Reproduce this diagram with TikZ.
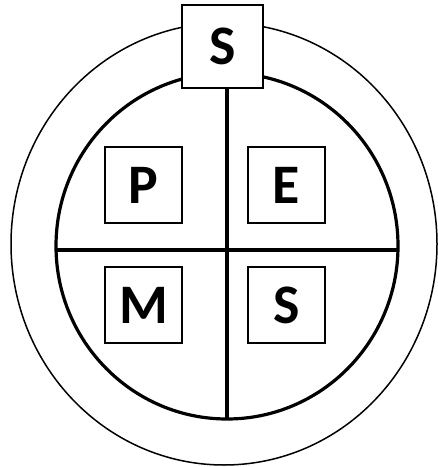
\documentclass[tikz,border=0pt]{standalone}
\usepackage{fontspec}
\setmainfont{Carlito}
\begin{document}
\begin{tikzpicture}[x=1bp,y=-1bp,
  lbox/.style={draw=black,line width=1.6bp,fill=white,inner sep=0pt,
    font=\fontsize{56}{60}\selectfont\bfseries}]
\useasboundingbox (0,0) rectangle (438,467);
% outer ring
\draw[line width=1.5bp] (224,244) ellipse [x radius=213, y radius=221];
% inner circle
\draw[line width=3.2bp] (227,246) ellipse [x radius=171, y radius=173];
% quadrant lines
\coordinate (L) at (56,250);
\coordinate (R) at (398,250);
\coordinate (B) at (227,419);
\coordinate (T) at (227,88);
\draw[line width=3.2bp] (L) -- (R);
\draw[line width=3.2bp] (T) -- (B);
% boxes
\node[lbox,minimum width=81bp,minimum height=83bp] (top) at (222.5,46.5) {S};
\node[lbox,minimum width=77bp,minimum height=76bp] (p) at (143.5,185) {P};
\node[lbox,minimum width=77bp,minimum height=76bp] (e) at (286.5,185) {E};
\node[lbox,minimum width=77bp,minimum height=76bp] (m) at (143.5,305) {M};
\node[lbox,minimum width=77bp,minimum height=76bp] (s) at (286.5,305) {S};
\end{tikzpicture}
\end{document}
